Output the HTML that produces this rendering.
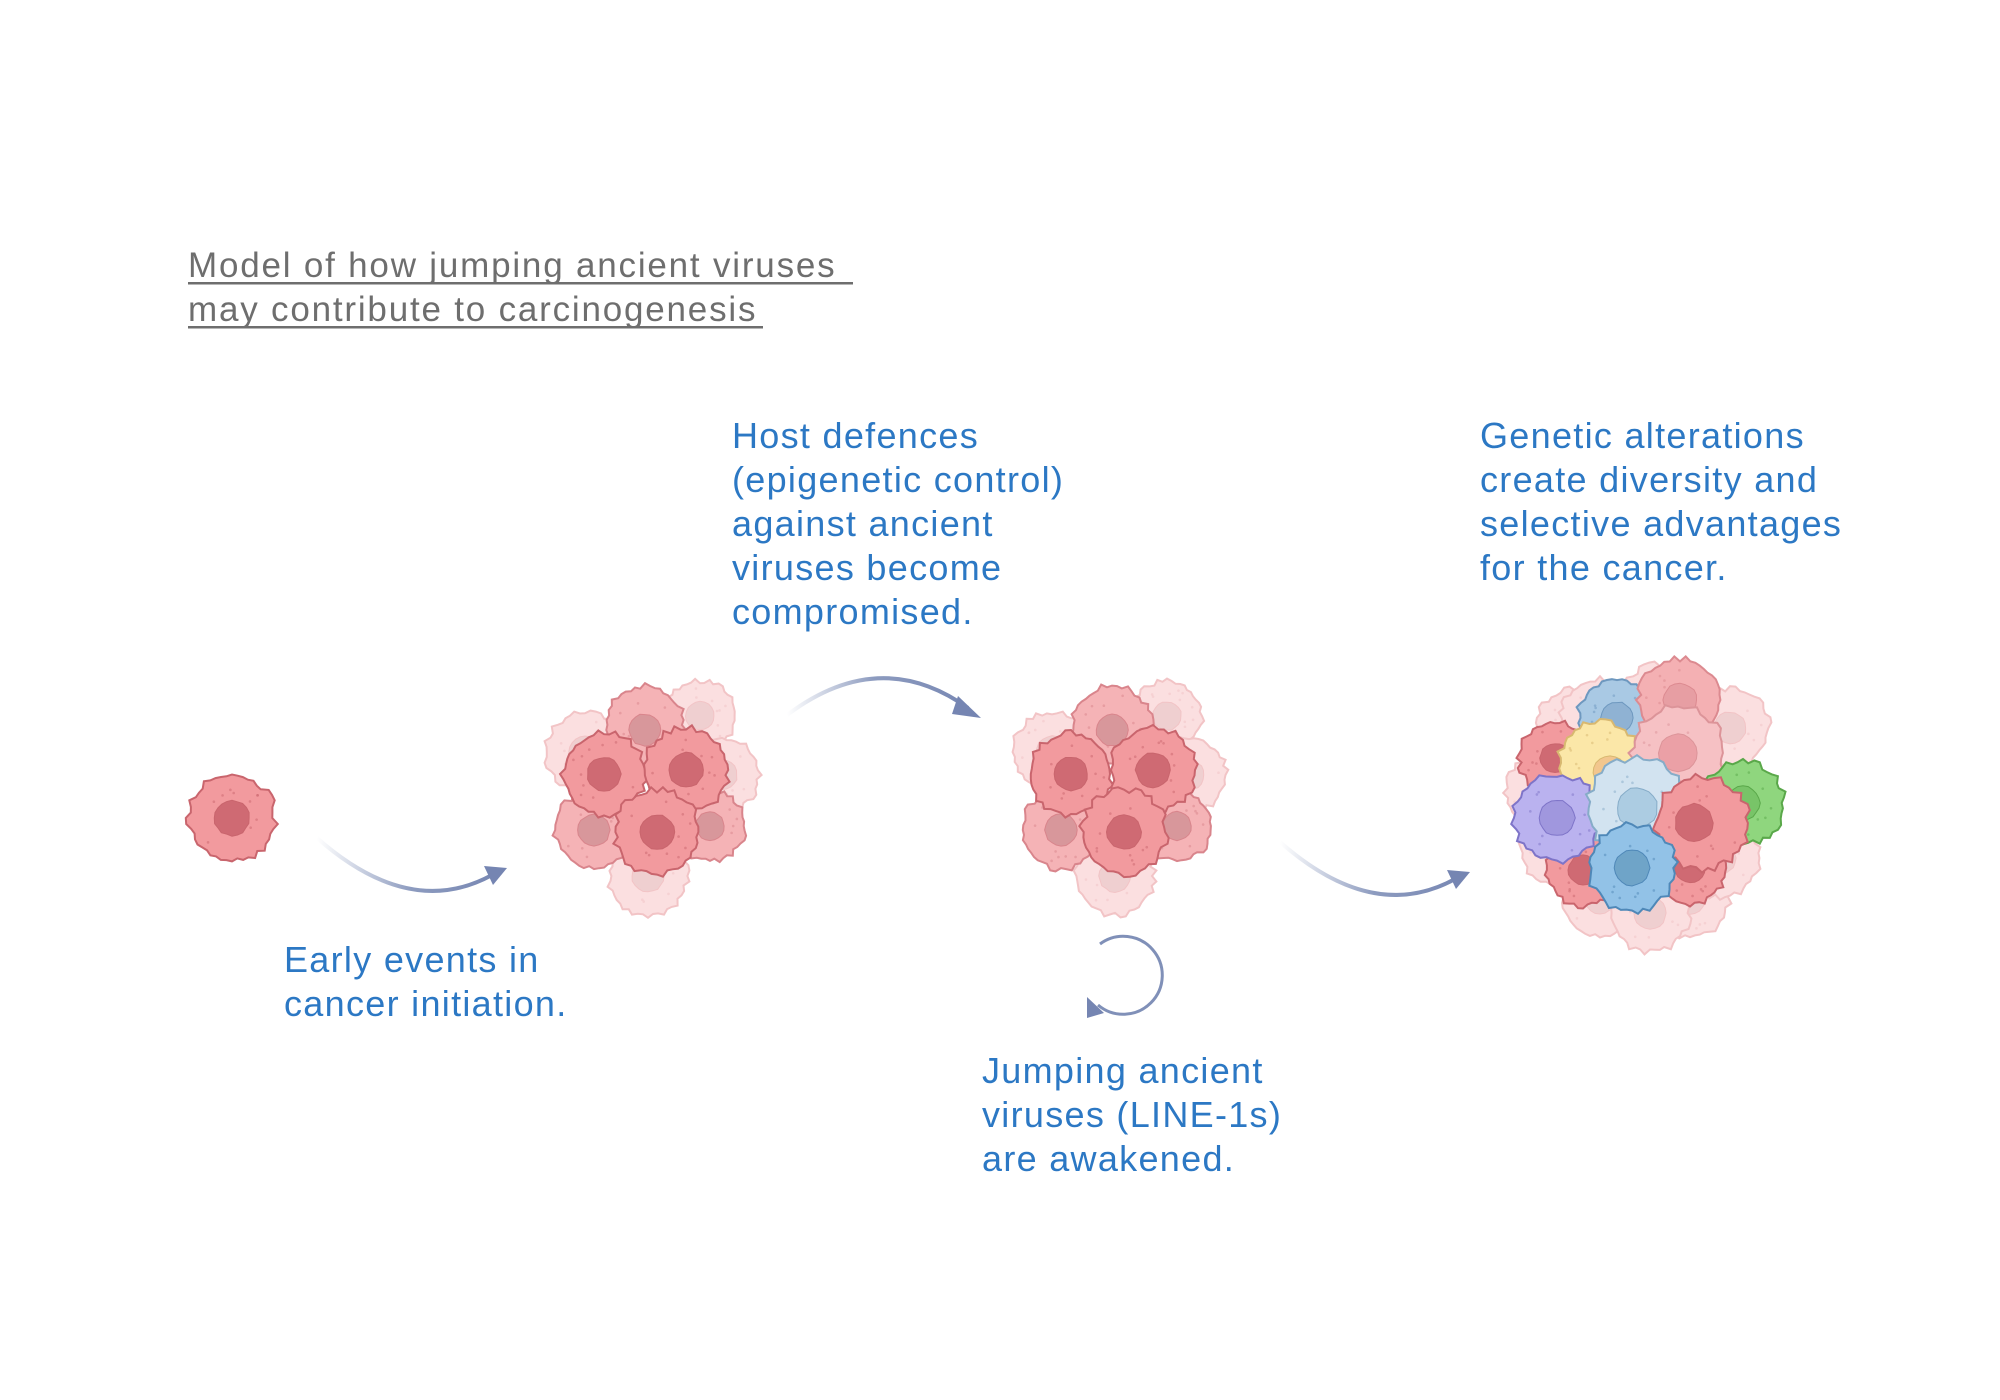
<!DOCTYPE html>
<html><head><meta charset="utf-8">
<style>
html,body{margin:0;padding:0;background:#fff;}
body{width:2000px;height:1400px;overflow:hidden;position:relative;}
svg{position:absolute;left:0;top:0;}
.t{font-family:"Liberation Sans",sans-serif;font-size:36px;letter-spacing:1.3px;fill:#2c78c4;}
.title{font-family:"Liberation Sans",sans-serif;font-size:35px;letter-spacing:1.8px;fill:#6e6e6e;}
</style></head>
<body>
<svg id="s" width="2000" height="1400" viewBox="0 0 2000 1400">
<defs>
<linearGradient id="g1" gradientUnits="userSpaceOnUse" x1="317" y1="0" x2="505" y2="0">
<stop offset="0" stop-color="#8090b8" stop-opacity="0"/><stop offset="0.5" stop-color="#8090b8" stop-opacity="0.9"/><stop offset="1" stop-color="#7585b2"/></linearGradient>
<linearGradient id="g3" gradientUnits="userSpaceOnUse" x1="1280" y1="0" x2="1468" y2="0">
<stop offset="0" stop-color="#8090b8" stop-opacity="0"/><stop offset="0.5" stop-color="#8090b8" stop-opacity="0.9"/><stop offset="1" stop-color="#7585b2"/></linearGradient>
<linearGradient id="g2" gradientUnits="userSpaceOnUse" x1="787" y1="0" x2="980" y2="0">
<stop offset="0" stop-color="#8090b8" stop-opacity="0"/><stop offset="0.45" stop-color="#8090b8" stop-opacity="0.9"/><stop offset="1" stop-color="#7585b2"/></linearGradient>
</defs>
<g id="cells"></g>
<text class="title" x="188" y="277">Model of how jumping ancient viruses</text>
<rect x="188" y="282" width="665" height="2.5" fill="#6e6e6e"/>
<text class="title" x="188" y="321">may contribute to carcinogenesis</text>
<rect x="188" y="326" width="575" height="2.5" fill="#6e6e6e"/>
<text class="t"><tspan x="732" y="448">Host defences</tspan><tspan x="732" y="492">(epigenetic control)</tspan><tspan x="732" y="536">against ancient</tspan><tspan x="732" y="580">viruses become</tspan><tspan x="732" y="624">compromised.</tspan></text>
<text class="t"><tspan x="1480" y="448">Genetic alterations</tspan><tspan x="1480" y="492">create diversity and</tspan><tspan x="1480" y="536">selective advantages</tspan><tspan x="1480" y="580">for the cancer.</tspan></text>
<text class="t"><tspan x="284" y="972">Early events in</tspan><tspan x="284" y="1016">cancer initiation.</tspan></text>
<text class="t"><tspan x="982" y="1083">Jumping ancient</tspan><tspan x="982" y="1127">viruses (LINE-1s)</tspan><tspan x="982" y="1171">are awakened.</tspan></text>
<path d="M317 838 Q410 920 492 875" fill="none" stroke="url(#g1)" stroke-width="4"/>
<polygon points="507,868 484,866 493,885" fill="#7585b2"/>
<path d="M1280 842 Q1373 924 1455 879" fill="none" stroke="url(#g3)" stroke-width="4"/>
<polygon points="1470,872 1447,870 1456,889" fill="#7585b2"/>
<path d="M787 715 Q880 645 968 708" fill="none" stroke="url(#g2)" stroke-width="4"/>
<polygon points="981,718 958,696 952,714" fill="#7585b2"/>
<path d="M1100 944 A39 39 0 1 1 1098 1005" fill="none" stroke="#8090b8" stroke-width="3"/>
<polygon points="1087,997 1104,1013 1087,1018" fill="#7585b2"/>
</svg>
<script>
var seed=7;function rnd(){seed=(seed*16807)%2147483647;return seed/2147483647;}
function blob(cx,cy,r,spiky,n){n=n||40;var pts=[];for(var i=0;i<n;i++){var a=i/n*Math.PI*2;var rr=r*(1+(rnd()-0.5)*0.08);if(spiky&&rnd()<0.25)rr=r*1.1;pts.push([cx+rr*Math.cos(a),cy+rr*Math.sin(a)]);}
return "M"+pts.map(function(p){return p[0].toFixed(1)+" "+p[1].toFixed(1)}).join(" L")+"Z";}
var G=document.getElementById("cells");var NS="http://www.w3.org/2000/svg";
function cell(cx,cy,r,fill,stroke,nuc,op,nx,ny){var g=document.createElementNS(NS,"g");g.setAttribute("opacity",op||1);
var p=document.createElementNS(NS,"path");p.setAttribute("d",blob(cx,cy,r,true,48));p.setAttribute("fill",fill);p.setAttribute("stroke",stroke);p.setAttribute("stroke-width","2");g.appendChild(p);
for(var i=0;i<10;i++){var a=rnd()*6.28,d=r*(0.5+rnd()*0.35);var c=document.createElementNS(NS,"circle");c.setAttribute("cx",cx+d*Math.cos(a));c.setAttribute("cy",cy+d*Math.sin(a));c.setAttribute("r",1.3);c.setAttribute("fill",stroke);c.setAttribute("opacity",0.5);g.appendChild(c);}
var q=document.createElementNS(NS,"path");q.setAttribute("d",blob(cx+(nx||0),cy+(ny||0),r*0.42,false,20));q.setAttribute("fill",nuc);q.setAttribute("stroke",stroke);q.setAttribute("stroke-width","1");g.appendChild(q);G.appendChild(g);}
var F=["#fbdfe0","#f2c4c6","#efcfd0"],M=["#f5b3b6","#d9858c","#d8979b"],R=["#f29a9e","#c9656d","#cf6a73"];
cell(232,818,42,R[0],R[1],R[2]);
function cluster(dx){
cell(585+dx,752,38,F[0],F[1],F[2]);cell(700+dx,716,34,F[0],F[1],F[2]);cell(722+dx,775,36,F[0],F[1],F[2]);cell(648+dx,876,38,F[0],F[1],F[2]);
cell(645+dx,725,38,M[0],M[1],M[2],1,0,5);cell(594+dx,830,38,M[0],M[1],M[2]);cell(710+dx,826,34,M[0],M[1],M[2]);
cell(604+dx,774,40,R[0],R[1],R[2]);cell(686+dx,770,41,R[0],R[1],R[2]);cell(657+dx,832,41,R[0],R[1],R[2]);}
cluster(0);cluster(467);
var dy=28;
[[1575,700],[1545,765],[1560,820],[1600,870],[1690,870],[1720,830],[1730,700],[1600,690],[1660,675],[1650,885]].forEach(function(p){cell(p[0],p[1]+dy,38,F[0],F[1],F[2]);});
cell(1617,690+dy,38,"#a9c9e4","#6e98bf","#8fb2d3");
cell(1680,672+dy,40,"#f4b0b3","#dc8a90","#e79ea3");
cell(1555,730+dy,35,R[0],R[1],R[2]);
cell(1600,735+dy,40,"#fbe7a8","#d8b870","#f2c68e",1,10,10);
cell(1678,725+dy,45,"#f6c1c4","#dc9499","#eba0a6");
cell(1743,775+dy,40,"#8fd67e","#5aa84a","#78c468");
cell(1583,842+dy,35,R[0],R[1],R[2]);cell(1690,840+dy,35,R[0],R[1],R[2]);
cell(1557,790+dy,42,"#bab2ef","#7e74c8","#a097de");
cell(1637,780+dy,48,"#d2e3f0","#86acc8","#acccE2");
cell(1702,795+dy,45,R[0],R[1],R[2],1,-8,0);
cell(1632,840+dy,42,"#92c2e7","#4f88b8","#6fa4c8");
</script>
</body></html>
